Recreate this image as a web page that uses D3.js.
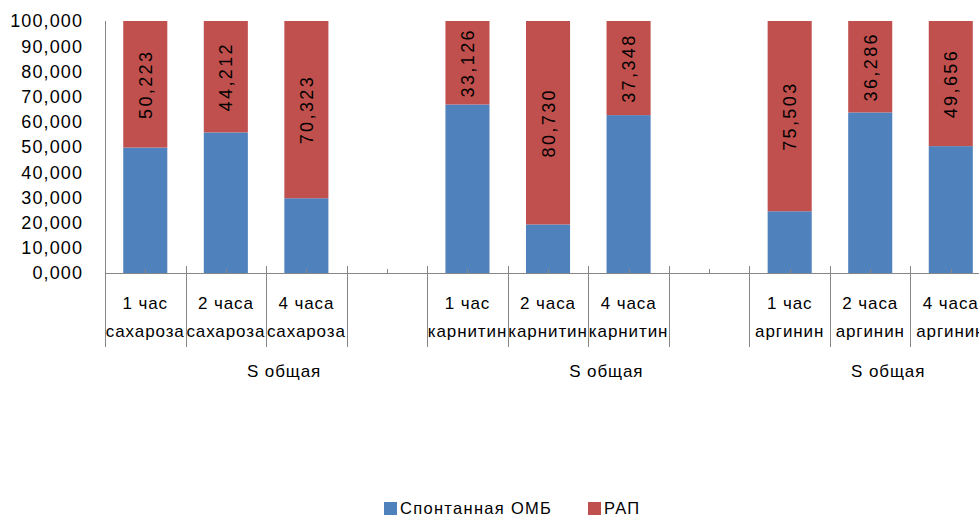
<!DOCTYPE html>
<html>
<head>
<meta charset="utf-8">
<script src="https://cdn.jsdelivr.net/npm/d3@7"></script>
<style>
  html, body { margin: 0; padding: 0; background: #fff; }
  svg { display: block; }
  text { font-family: "Liberation Sans", Arial, sans-serif; fill: #000; }
</style>
</head>
<body>
<svg id="chart" width="979" height="519"></svg>
<script>
// Time points and supplements (the category axis has an empty slot between groups)
const hours = ["1 час", "2 часа", "4 часа"];
const substances = ["сахароза", "карнитин", "аргинин"];
const groupLabel = "S общая";

// Share of each response, %
const ombValues = [49.777, 55.788, 29.677, 66.874, 19.270, 62.652, 24.497, 63.714, 50.344];
const rapValues = [50.223, 44.212, 70.323, 33.126, 80.730, 37.348, 75.503, 36.286, 49.656];

const yTickValues = [0, 10, 20, 30, 40, 50, 60, 70, 80, 90, 100];
const yTickLabels = ["0,000", "10,000", "20,000", "30,000", "40,000", "50,000",
                     "60,000", "70,000", "80,000", "90,000", "100,000"];

const seriesNames = ["Спонтанная ОМБ", "РАП"];
const seriesColors = ["#4F81BD", "#C0504D"];

const svg = d3.select("#chart");
const axisColor = "#868686";

// Build category slots: 3 bars per substance, then one empty slot
const slots = [];
const rows = [];
substances.forEach((s, gi) => {
  hours.forEach((h, hi) => {
    const i = gi * hours.length + hi;
    const key = "c" + i;
    slots.push(key);
    rows.push({ key, hour: h, substance: s, group: gi, omb: ombValues[i], rap: rapValues[i] });
  });
  if (gi < substances.length - 1) slots.push("gap" + gi);
});

const plotLeft = 105, plotTop = 21, plotBottom = 273;
const step = 80.55;
const x = d3.scaleBand()
  .domain(slots)
  .range([plotLeft, plotLeft + step * slots.length])
  .paddingInner(0.453)
  .paddingOuter(0.2265);
const y = d3.scaleLinear().domain([0, 100]).range([plotBottom, plotTop]);

// Stacked bars
const stack = d3.stack().keys(["omb", "rap"]);
const layers = stack(rows);

svg.append("g").selectAll("g")
  .data(layers)
  .join("g")
  .attr("fill", (d, i) => seriesColors[i])
  .selectAll("rect")
  .data(d => d)
  .join("rect")
  .attr("x", d => x(d.data.key))
  .attr("width", x.bandwidth())
  .attr("y", d => y(d[1]))
  .attr("height", d => y(d[0]) - y(d[1]));

// Value labels for the РАП segment, rotated
const fmt = d3.formatLocale({ decimal: ",", thousands: " ", grouping: [3], currency: ["", ""] }).format(".3f");
svg.append("g").selectAll("text")
  .data(layers[1])
  .join("text")
  .attr("transform", d => {
    const cx = x(d.data.key) + x.bandwidth() / 2;
    const cy = (y(d[0]) + y(d[1])) / 2;
    return `translate(${cx},${cy}) rotate(-90)`;
  })
  .attr("text-anchor", "middle")
  .attr("dy", "0.36em")
  .style("font-size", "18px")
  .style("letter-spacing", "2.4px")
  .text(d => fmt(d.data.rap));

// Y axis
const yAxis = svg.append("g");
yAxis.append("line")
  .attr("x1", plotLeft + 0.5).attr("x2", plotLeft + 0.5)
  .attr("y1", plotTop).attr("y2", 347)
  .attr("stroke", axisColor);
yAxis.selectAll("text")
  .data(yTickValues)
  .join("text")
  .attr("x", 83)
  .attr("y", d => y(d))
  .attr("dy", "0.36em")
  .attr("text-anchor", "end")
  .style("font-size", "18px")
  .style("letter-spacing", "1.1px")
  .text((d, i) => yTickLabels[i]);

// X axis line, slot dividers and centre ticks
const xAxis = svg.append("g");
xAxis.append("line")
  .attr("x1", plotLeft).attr("x2", 979)
  .attr("y1", plotBottom + 0.5).attr("y2", plotBottom + 0.5)
  .attr("stroke", axisColor);

const boundaries = slots.map(k => x(k) - x.step() * x.paddingOuter());
xAxis.selectAll("line.div")
  .data(boundaries.slice(1))
  .join("line")
  .attr("class", "div")
  .attr("x1", d => Math.round(d) + 0.5).attr("x2", d => Math.round(d) + 0.5)
  .attr("y1", plotBottom - 7).attr("y2", 347)
  .attr("stroke", axisColor);

xAxis.selectAll("line.tk")
  .data(slots)
  .join("line")
  .attr("class", "tk")
  .attr("x1", d => Math.round(x(d) + x.bandwidth() / 2) + 0.5)
  .attr("x2", d => Math.round(x(d) + x.bandwidth() / 2) + 0.5)
  .attr("y1", plotBottom - 4).attr("y2", plotBottom)
  .attr("stroke", axisColor);

// Category labels (two lines)
const catLabels = xAxis.selectAll("g.cat")
  .data(rows)
  .join("g")
  .attr("class", "cat")
  .attr("transform", d => `translate(${x(d.key) + x.bandwidth() / 2},0)`);
catLabels.append("text")
  .attr("y", 303).attr("dy", "0.36em")
  .attr("text-anchor", "middle")
  .style("font-size", "17px")
  .style("letter-spacing", "0.9px")
  .text(d => d.hour);
catLabels.append("text")
  .attr("y", 331).attr("dy", "0.36em")
  .attr("text-anchor", "middle")
  .style("font-size", "17px")
  .style("letter-spacing", "0.9px")
  .text(d => d.substance);

// Group labels under each supplement block
const groups = substances.map((s, gi) => {
  const members = slots.filter(k => {
    const r = rows.find(r => r.key === k);
    return (r && r.group === gi) || k === "gap" + gi;
  });
  const x0 = x(members[0]) - x.step() * x.paddingOuter();
  const x1 = x(members[members.length - 1]) - x.step() * x.paddingOuter() + x.step();
  return { cx: (x0 + x1) / 2 };
});
xAxis.selectAll("text.grp")
  .data(groups)
  .join("text")
  .attr("class", "grp")
  .attr("x", d => d.cx + 18)
  .attr("y", 371).attr("dy", "0.36em")
  .attr("text-anchor", "middle")
  .style("font-size", "17px")
  .style("letter-spacing", "0.9px")
  .text(groupLabel);

// Legend
const legendX = [384, 588];
const legend = svg.append("g").selectAll("g")
  .data(seriesNames)
  .join("g")
  .attr("transform", (d, i) => `translate(${legendX[i]},502)`);
legend.append("rect")
  .attr("width", 13).attr("height", 13)
  .attr("fill", (d, i) => seriesColors[i]);
legend.append("text")
  .attr("x", 16).attr("y", 6.5).attr("dy", "0.34em")
  .style("font-size", "16.5px")
  .style("letter-spacing", "1.3px")
  .text(d => d);
</script>
</body>
</html>
